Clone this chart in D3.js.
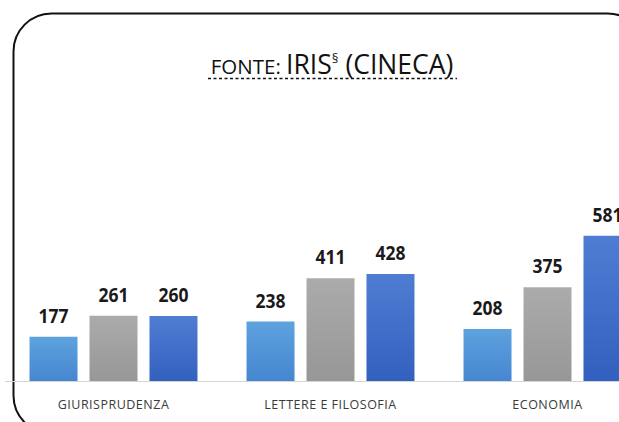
<!DOCTYPE html>
<html>
<head>
<meta charset="utf-8">
<script src="https://cdn.jsdelivr.net/npm/d3@7"></script>
<style>
  body { margin: 0; background: #fff; }
  svg { display: block; }
</style>
</head>
<body>
<script>
var W = 619, H = 422;

// dati
var categories = ["GIURISPRUDENZA", "LETTERE E FILOSOFIA", "ECONOMIA"];
var series = ["serie1", "serie2", "serie3"];
var values = {
  "GIURISPRUDENZA":      [177, 261, 260],
  "LETTERE E FILOSOFIA": [238, 411, 428],
  "ECONOMIA":            [208, 375, 581]
};
var yTicks = [0, 600];

var colors = [["#5ea2de", "#4686d0"], ["#ababab", "#979797"], ["#4f7dd3", "#3360be"]];

var svg = d3.select("body")
            .append("svg")
            .attr("width", W)
            .attr("height", H);

var defs = svg.append("defs");
colors.forEach(function(c, i) {
  var g = defs.append("linearGradient")
              .attr("id", "grad" + i)
              .attr("x1", 0).attr("y1", 0).attr("x2", 0).attr("y2", 1);
  g.append("stop").attr("offset", "0%").attr("stop-color", c[0]);
  g.append("stop").attr("offset", "100%").attr("stop-color", c[1]);
});

// cornice arrotondata
svg.append("rect")
   .attr("x", 13.5).attr("y", 13.5)
   .attr("width", 632).attr("height", 420)
   .attr("rx", 38).attr("ry", 38)
   .attr("fill", "none")
   .attr("stroke", "#111")
   .attr("stroke-width", 2);

// titolo
var title = svg.append("text")
   .attr("x", 332)
   .attr("y", 74)
   .attr("text-anchor", "middle")
   .style("font-family", "'Open Sans', sans-serif")
   .style("fill", "#111");
title.append("tspan").style("font-size", "20.5px").text("FONTE: ");
title.append("tspan").style("font-size", "26.5px").text("IRIS");
title.append("tspan").style("font-size", "13px").attr("dy", -11).text("§");
title.append("tspan").style("font-size", "26.5px").attr("dy", 11).text(" (CINECA)");

svg.append("line")
   .attr("x1", 208).attr("x2", 457)
   .attr("y1", 78.5).attr("y2", 78.5)
   .attr("stroke", "#111")
   .attr("stroke-width", 1.6)
   .attr("stroke-dasharray", "3,2.5");

// scale
var x0 = d3.scaleBand()
           .domain(categories)
           .range([5, 656])
           .paddingInner(0.226)
           .paddingOuter(0.113);

var x1 = d3.scaleBand()
           .domain(series)
           .range([0, x0.bandwidth()])
           .paddingInner(0.2)
           .paddingOuter(0);

var y = d3.scaleLinear()
          .domain(d3.extent(yTicks))
          .range([381, 231]);

// asse
svg.append("line")
   .attr("x1", 5).attr("x2", W)
   .attr("y1", 381.5).attr("y2", 381.5)
   .attr("stroke", "#d4d4d4")
   .attr("stroke-width", 1);

var groups = svg.selectAll("g.group")
   .data(categories)
   .enter()
   .append("g")
   .attr("class", "group")
   .attr("transform", function(d) { return "translate(" + x0(d) + ",0)"; });

var cells = function(cat) {
  return series.map(function(s, i) { return {cat: cat, s: s, i: i, v: values[cat][i]}; });
};

groups.selectAll("rect")
   .data(cells)
   .enter()
   .append("rect")
   .attr("x", function(d) { return x1(d.s); })
   .attr("y", function(d) { return y(d.v); })
   .attr("width", x1.bandwidth())
   .attr("height", function(d) { return y(0) - y(d.v); })
   .attr("fill", function(d) { return "url(#grad" + d.i + ")"; });

groups.selectAll("text.val")
   .data(cells)
   .enter()
   .append("text")
   .attr("class", "val")
   .attr("transform", function(d) {
     return "translate(" + (x1(d.s) + x1.bandwidth() / 2) + "," + (y(d.v) - 14) + ") scale(1,1.15)";
   })
   .attr("text-anchor", "middle")
   .style("font-family", "'Open Sans', sans-serif")
   .style("font-weight", "bold")
   .style("font-size", "17.5px")
   .style("fill", "#1a1a1a")
   .text(function(d) { return d.v; });

// etichette categorie
svg.selectAll("text.cat")
   .data(categories)
   .enter()
   .append("text")
   .attr("class", "cat")
   .attr("x", function(d) { return x0(d) + x0.bandwidth() / 2; })
   .attr("y", 409)
   .attr("text-anchor", "middle")
   .style("font-family", "'Open Sans', sans-serif")
   .style("font-size", "12.5px")
   .style("letter-spacing", "0.5px")
   .style("fill", "#3a3a3a")
   .text(function(d) { return d; });
</script>
</body>
</html>
